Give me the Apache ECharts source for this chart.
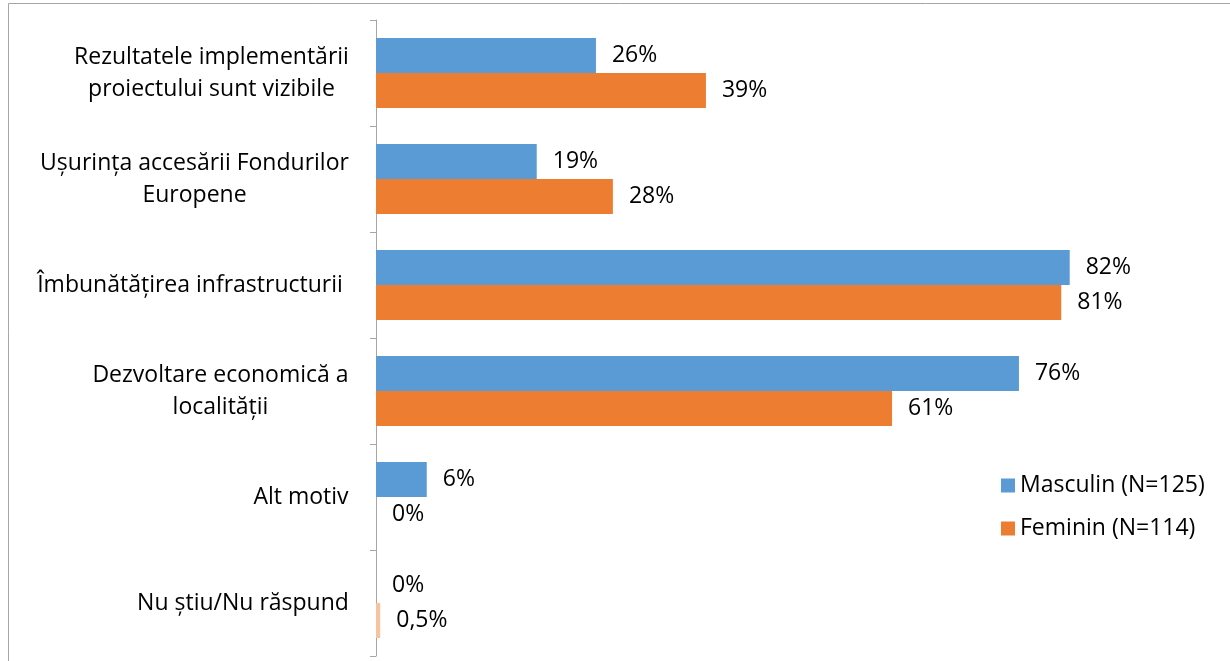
<!DOCTYPE html>
<html><head><meta charset="utf-8">
<script src="https://cdn.jsdelivr.net/npm/echarts@6/dist/echarts.min.js"></script>
<style>html,body{margin:0;padding:0;background:#fff}#c{width:1230px;height:661px}</style>
</head><body><div id="c"></div>
<script>
const categories = [
  "Rezultatele implementării\nproiectului sunt vizibile",
  "Ușurința accesării Fondurilor\nEuropene",
  "Îmbunătățirea infrastructurii ",
  "Dezvoltare economică a\nlocalității",
  "Alt motiv",
  "Nu știu/Nu răspund"
];
const masculin = [26, 19, 82, 76, 6, 0];
const feminin = [39, 28, 81, 61, 0, 0.5];
const seriesNames = ["Masculin (N=125)", "Feminin (N=114)"];

const FONT = "Open Sans";
const FS = 23;
const ctx = document.createElement('canvas').getContext('2d');
ctx.font = FS + "px '" + FONT + "'";
const rich = {};
categories.forEach((c, i) => {
  const w = Math.max(...c.split('\n').map(l => ctx.measureText(l).width));
  rich['c' + i] = {width: Math.ceil(w), align: 'center', fontSize: FS, fontFamily: FONT, color: '#000', lineHeight: 32};
});

const fmt = p => (String(p.value).replace('.', ',')) + '%';
const chart = echarts.init(document.getElementById('c'), null, {renderer: 'canvas'});
chart.setOption({
  animation: false,
  textStyle: {fontFamily: FONT},
  graphic: [{type: 'rect', shape: {x: 8.5, y: 3.5, width: 1300, height: 700}, style: {fill: 'none', stroke: '#a6a6a6', lineWidth: 1}, silent: true, z: -10}],
  grid: {left: 376, right: 8, top: 20, bottom: 5, containLabel: false},
  legend: {
    orient: 'vertical', left: 996, top: 469, itemWidth: 14, itemHeight: 14, itemGap: 20,
    icon: 'rect', textStyle: {fontSize: FS, fontFamily: FONT, color: '#000', lineHeight: 23, padding: [0, 0, 0, 0]},
    data: seriesNames
  },
  xAxis: {type: 'value', min: 0, max: 100, show: false},
  yAxis: {
    type: 'category', inverse: true, data: categories,
    axisLine: {show: true, lineStyle: {color: '#a6a6a6', width: 1}},
    axisTick: {show: true, length: 6, lineStyle: {color: '#a6a6a6'}},
    axisLabel: {
      margin: 27, align: 'right',
      formatter: (v, i) => v.split('\n').map(l => '{c' + i + '|' + l + '}').join('\n'),
      rich: rich
    }
  },
  series: [
    {name: seriesNames[0], type: 'bar', data: masculin, barGap: '0%', barCategoryGap: '34%',
     itemStyle: {color: '#5B9BD5'},
     label: {show: true, position: 'right', distance: 16, formatter: fmt, fontSize: FS, fontFamily: FONT, color: '#000'}},
    {name: seriesNames[1], type: 'bar', data: feminin.map((v, i) => i === 5 ? {value: v, itemStyle: {color: '#F6C3A0'}} : v),
     barGap: '0%', barCategoryGap: '34%',
     itemStyle: {color: '#ED7D31'},
     label: {show: true, position: 'right', distance: 16, formatter: fmt, fontSize: FS, fontFamily: FONT, color: '#000'}}
  ]
});
</script></body></html>
